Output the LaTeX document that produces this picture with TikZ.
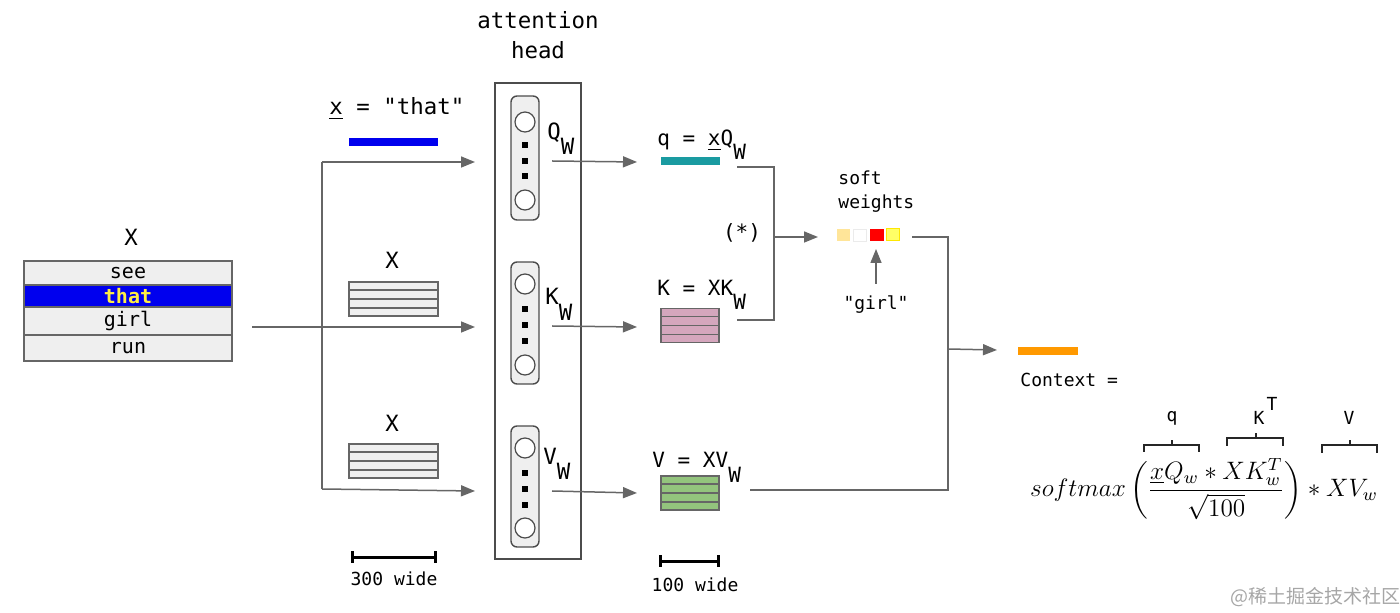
\documentclass[tikz,border=0pt]{standalone}
\usepackage{fix-cm}
\usepackage{amsmath}
\usepackage{fontspec}
\newfontfamily\monof{DejaVu Sans Mono}
\newfontfamily\cjk{Noto Sans CJK SC}
\usetikzlibrary{arrows.meta,calc}
\definecolor{lg}{HTML}{666666}
\definecolor{boxg}{HTML}{EFEFEF}
\definecolor{bblue}{HTML}{0000EE}
\definecolor{tyellow}{HTML}{FFEE44}
\definecolor{teal2}{HTML}{1A9BA1}
\definecolor{pink2}{HTML}{D5A6BD}
\definecolor{green2}{HTML}{93C47D}
\definecolor{orange2}{HTML}{FF9900}
\definecolor{sw1}{HTML}{FFE599}
\definecolor{sw4}{HTML}{FFFF66}
\tikzset{
  mono/.style={font=\monof\fontsize{10.5}{12}\selectfont, inner sep=0pt},
  monob/.style={font=\monof\fontsize{11.2}{13}\selectfont, inner sep=0pt},
  monos/.style={font=\monof\fontsize{9}{11}\selectfont, inner sep=0pt},
  conn/.style={draw=lg, line width=0.75pt},
  arr/.style={conn, -{Triangle[length=7pt,width=5.5pt]}},
  rowbox/.style={draw=lg, fill=boxg, line width=0.7pt, minimum width=104pt, inner sep=0pt, font=\monof\fontsize{10}{12}\selectfont},
  stackbox/.style={draw=lg, line width=0.7pt, inner sep=0pt, minimum width=44.5pt, minimum height=17pt},
  sline/.style={draw=lg, line width=0.7pt},
  unitbox/.style={draw=black!70, fill=boxg, line width=0.7pt, rounded corners=3pt, minimum width=14pt, inner sep=0pt},
  neuron/.style={circle, draw=black!70, fill=white, line width=0.6pt, minimum size=10pt, inner sep=0pt},
  dotsq/.style={fill=black, minimum size=2.6pt, inner sep=0pt},
  bar/.style={inner sep=0pt, minimum height=4pt},
  sq/.style={inner sep=0pt, minimum width=6.6pt, minimum height=6pt},
  scalebar/.style={draw=black, line width=1.5pt},
  brk/.style={draw=black!85, line width=0.9pt},
}
\begin{document}
\begin{tikzpicture}[x=0.5pt,y=-0.5pt]
\useasboundingbox (0,0) rectangle (1400,613);

% ---- input table
\node[monob] (Xt) at (131,237) {X};
\node[rowbox, minimum height=12pt] (see) at (128,273) {see};
\node[rowbox, fill=bblue, minimum height=11pt, text=tyellow, font=\monof\bfseries\fontsize{10}{12}\selectfont] (that) at (128,296) {that};
\node[rowbox, minimum height=14pt] (girl) at (128,321) {girl};
\node[rowbox, minimum height=13pt] (run) at (128,348) {run};

% ---- x = "that"
\node[monob, anchor=base west] (xthat) at (329,115) {\underline{x} = "that"};
\node[bar, fill=bblue, minimum width=44.5pt] (xbar) at (393.5,142) {};

% ---- X stacks
\node[monob] (Xk) at (392,260) {X};
\node[stackbox, fill=boxg] (xs1) at (393.5,299) {};
\node[monob] (Xv) at (392,423) {X};
\node[stackbox, fill=boxg] (xs2) at (393.5,461) {};

% ---- attention head
\node[monob, align=center, font=\monof\fontsize{11.2}{15}\selectfont] (ah) at (538,35) {attention\\head};
\node[draw=black!70, line width=0.7pt, minimum width=43pt, minimum height=238pt, inner sep=0pt] (head) at (538,321) {};
\node[unitbox, minimum height=62pt] (uq) at (525,158) {};
\node[unitbox, minimum height=61pt] (uk) at (525,323) {};
\node[unitbox, minimum height=60.5pt] (uv) at (525,486.5) {};
\foreach \n/\a/\b/\da/\db/\dc in {q/122/200/145/161/176, k/284/365/309/325/341, v/448/528/473/489/505}{
  \node[neuron] (\n c1) at (525,\a) {};
  \node[neuron] (\n c2) at (525,\b) {};
  \node[dotsq] (\n d1) at (525,\da) {};
  \node[dotsq] (\n d2) at (525,\db) {};
  \node[dotsq] (\n d3) at (525,\dc) {};
}
\node[monob, anchor=base west] (lq) at (547,140) {Q\raisebox{-7.5pt}{W}};
\node[monob, anchor=base west] (lk) at (545,305) {K\raisebox{-8pt}{W}};
\node[monob, anchor=base west] (lv) at (543,465) {V\raisebox{-7.5pt}{W}};

% ---- q K V
\node[mono, anchor=base west] (qlab) at (657,146) {q = \underline{x}Q\raisebox{-7pt}{W}};
\node[bar, fill=teal2, minimum width=29.5pt] (qbar) at (690,161.5) {};
\node[mono, anchor=base west] (klab) at (657,296) {K = XK\raisebox{-7pt}{W}};
\node[stackbox, fill=pink2, minimum width=29pt] (ks) at (690,325.5) {};
\node[mono, anchor=base west] (vlab) at (652,468) {V = XV\raisebox{-7.5pt}{W}};
\node[stackbox, fill=green2, minimum width=29pt] (vs) at (690,493) {};

\foreach \s in {xs1,xs2,ks,vs}{
  \foreach \f in {0.25,0.5,0.75}
    \draw[sline] ($(\s.north west)!\f!(\s.south west)$) -- ($(\s.north east)!\f!(\s.south east)$);
}

% ---- soft weights
\node[anchor=north west, align=left, inner sep=0pt, font=\monof\fontsize{9}{12}\selectfont] (swl) at (838,170) {soft\\weights};
\node[sq, fill=sw1] (s1) at (843.5,235) {};
\node[sq, fill=white, draw=black!8, line width=0.4pt] (s2) at (860,235) {};
\node[sq, fill=red] (s3) at (877,235) {};
\node[sq, fill=sw4, draw=yellow!90!orange, line width=0.5pt] (s4) at (893,235) {};
\node[monos] (gq) at (876,305) {"girl"};
\node[mono] (star) at (742,233) {(*)};

% ---- context
\node[bar, fill=orange2, minimum width=30pt] (cbar) at (1048,351) {};
\node[monos, anchor=west] (ctx) at (1020,380) {Context =};
\node[inner sep=0pt] (formula) at (1204,489) {\fontsize{12.6}{15}\selectfont $\displaystyle softmax\left(\frac{\underline{x}Q_w * XK_w^T}{\sqrt{100}}\right) * XV_w$};
\node[monos] (bq) at (1172,418) {q};
\node[monos] (bk) at (1259,418) {K};
\node[monos] (bt) at (1272,404) {T};
\node[monos] (bv) at (1349,418) {V};
\draw[brk] (1144,452) -- (1144,445) -- (1199,445) -- (1199,452) (1172,445) -- (1172,440);
\draw[brk] (1227,446) -- (1227,438) -- (1283,438) -- (1283,446) (1256,438) -- (1256,433);
\draw[brk] (1322,453) -- (1322,445) -- (1377,445) -- (1377,453) (1350,445) -- (1350,440);

% ---- scale bars
\coordinate (sa1) at (352,557); \coordinate (sa2) at (435,557);
\draw[scalebar] (sa1) -- (sa2) ($(sa1)+(0,-6)$) -- ($(sa1)+(0,6)$) ($(sa2)+(0,-6)$) -- ($(sa2)+(0,6)$);
\node[monos] (w300) at (394,579) {300 wide};
\coordinate (sb1) at (660,561); \coordinate (sb2) at (718,561);
\draw[scalebar] (sb1) -- (sb2) ($(sb1)+(0,-6)$) -- ($(sb1)+(0,6)$) ($(sb2)+(0,-6)$) -- ($(sb2)+(0,6)$);
\node[monos] (w100) at (695,585) {100 wide};

% ---- connectors
\coordinate (tout) at (252,327);
\coordinate (sp1) at (322,162);
\coordinate (sp2) at (322,489);
\draw[conn] (sp1) -- (sp2);
\draw[arr] (tout) -- (475,327);
\draw[arr] (sp1) -- (475,162);
\draw[arr] (sp2) -- (475,491);

\coordinate (oq) at (552,161);
\coordinate (ok) at (552,326);
\coordinate (ov) at (552,491);
\draw[arr] (oq) -- (637,162);
\draw[arr] (ok) -- (637,327);
\draw[arr] (ov) -- (637,493);

\coordinate (bqs) at (737,167);
\coordinate (bks) at (737,320);
\coordinate (swin) at (818,237);
\draw[conn] (bqs) -- (774,167) -- (774,320) -- (bks);
\draw[arr] (774,237) -- (swin);
\draw[arr] (gq.north) ++(0,-12) -- (876,249);

\coordinate (swo) at (912,237);
\coordinate (vo) at (750,490);
\draw[conn] (swo) -- (948,237) -- (948,490) -- (vo);
\draw[arr] (948,349) -- (997,350);

% ---- watermark
\node[font=\cjk\fontsize{9.5}{11}\selectfont, text=black!35, inner sep=0pt] (wm) at (1315,597) {@稀土掘金技术社区};
\end{tikzpicture}
\end{document}
